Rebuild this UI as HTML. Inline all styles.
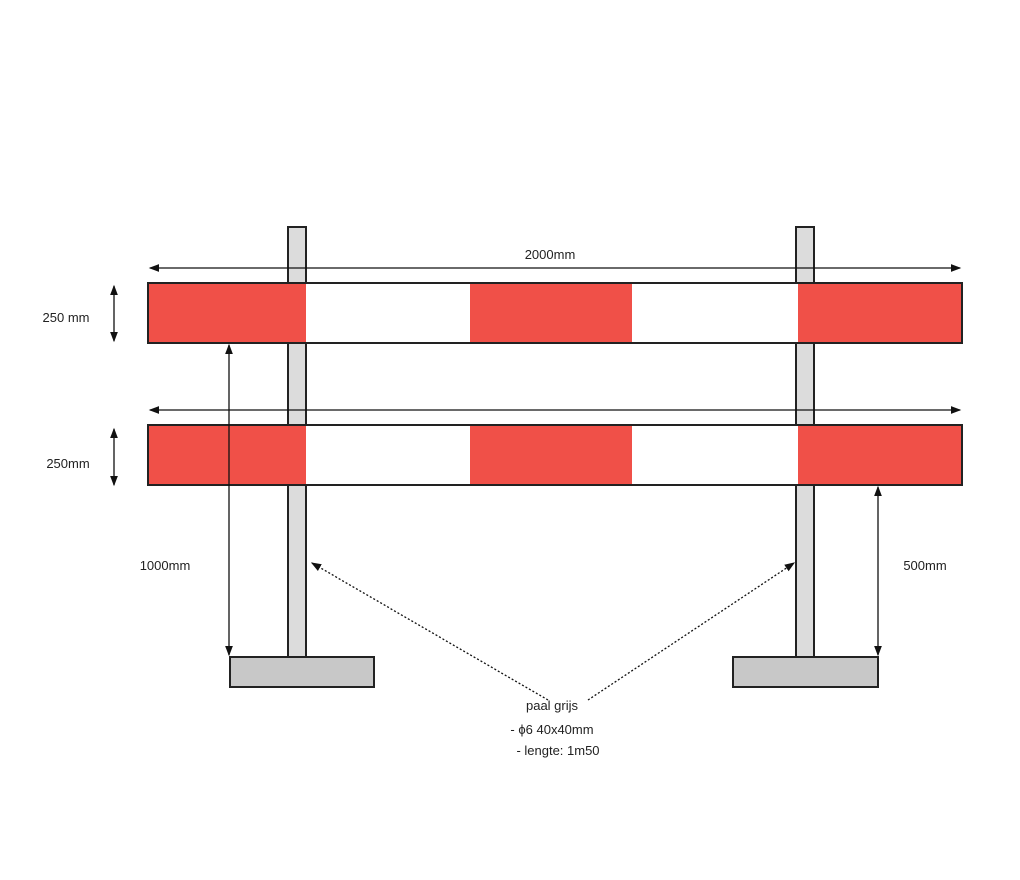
<!DOCTYPE html>
<html><head><meta charset="utf-8"><style>body{margin:0;background:#fff}svg{display:block}text{font-family:"Liberation Sans",sans-serif;fill:#222;font-size:13px}</style></head><body>
<svg width="1020" height="880" viewBox="0 0 1020 880">
<defs><marker id="a" markerWidth="8" markerHeight="8" refX="7" refY="4" orient="auto-start-reverse"><path d="M0,1 L8,4 L0,7z" fill="#111"/></marker></defs>
<rect x="288" y="227" width="18" height="430" fill="#dcdcdc" stroke="#222" stroke-width="2"/>
<rect x="796" y="227" width="18" height="430" fill="#dcdcdc" stroke="#222" stroke-width="2"/>
<g>
<rect x="148" y="283" width="814" height="60" fill="#fff" stroke="#222" stroke-width="2"/>
<rect x="149" y="284" width="157" height="58" fill="#f05048"/>
<rect x="470" y="284" width="162" height="58" fill="#f05048"/>
<rect x="798" y="284" width="163" height="58" fill="#f05048"/>
<rect x="148" y="425" width="814" height="60" fill="#fff" stroke="#222" stroke-width="2"/>
<rect x="149" y="426" width="157" height="58" fill="#f05048"/>
<rect x="470" y="426" width="162" height="58" fill="#f05048"/>
<rect x="798" y="426" width="163" height="58" fill="#f05048"/>
</g>
<rect x="230" y="657" width="144" height="30" fill="#c8c8c8" stroke="#222" stroke-width="2"/>
<rect x="733" y="657" width="145" height="30" fill="#c8c8c8" stroke="#222" stroke-width="2"/>
<g stroke="#111" stroke-width="1.3" fill="none">
<line x1="150" y1="268" x2="960" y2="268" marker-start="url(#a)" marker-end="url(#a)"/>
<line x1="150" y1="410" x2="960" y2="410" marker-start="url(#a)" marker-end="url(#a)"/>
<line x1="114" y1="286" x2="114" y2="341" marker-start="url(#a)" marker-end="url(#a)"/>
<line x1="114" y1="429" x2="114" y2="485" marker-start="url(#a)" marker-end="url(#a)"/>
<line x1="229" y1="345" x2="229" y2="655" marker-start="url(#a)" marker-end="url(#a)"/>
<line x1="878" y1="487" x2="878" y2="655" marker-start="url(#a)" marker-end="url(#a)"/>
<line x1="548" y1="700" x2="312" y2="563" stroke-dasharray="2,2" marker-end="url(#a)"/>
<line x1="588" y1="700" x2="794" y2="563" stroke-dasharray="2,2" marker-end="url(#a)"/>
</g>
<text x="550" y="259" text-anchor="middle">2000mm</text>
<text x="66" y="322" text-anchor="middle">250 mm</text>
<text x="68" y="468" text-anchor="middle">250mm</text>
<text x="165" y="570" text-anchor="middle">1000mm</text>
<text x="925" y="570" text-anchor="middle">500mm</text>
<text x="552" y="710" text-anchor="middle">paal grijs</text>
<text x="552" y="734" text-anchor="middle">- ϕ6 40x40mm</text>
<text x="558" y="755" text-anchor="middle">- lengte: 1m50</text>
</svg>
</body></html>
